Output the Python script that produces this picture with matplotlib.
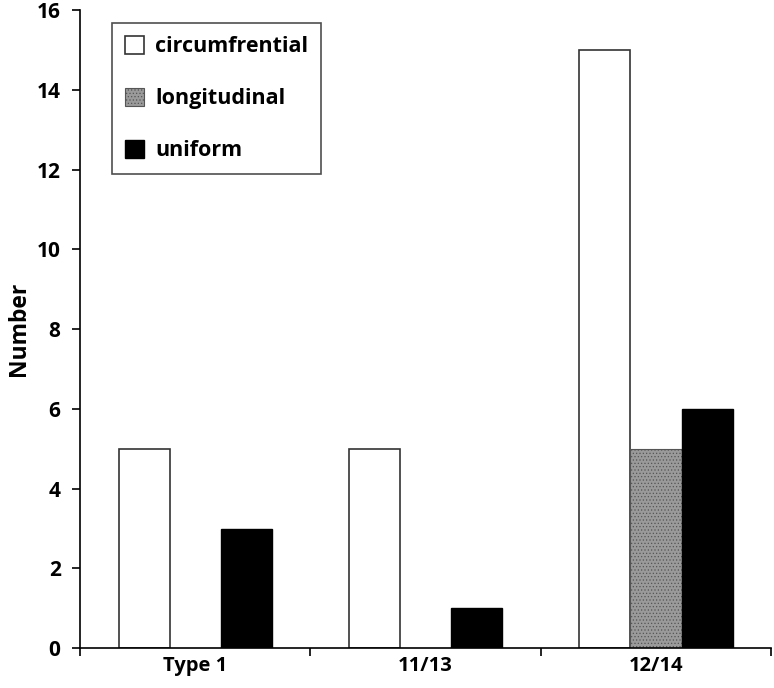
from matplotlib import pyplot as plt
import numpy as np

categories = ['Type 1', '11/13', '12/14']
circumfrential = [5, 5, 15]
longitudinal = [0, 0, 5]
uniform = [3, 1, 6]

if __name__ == '__main__':
    plt.rcParams['font.family'] = ['Open Sans', 'DejaVu Sans']
    plt.rcParams['hatch.color'] = '#555555'
    plt.rcParams['hatch.linewidth'] = 0.5

    fig = plt.figure(figsize=(7.74, 6.88), dpi=100)
    ax = fig.add_axes([0.1034, 0.058, 0.893, 0.927])

    x = np.arange(len(categories))
    w = 0.222
    ax.bar(x - w, circumfrential, w, color='white', edgecolor='#333333',
           linewidth=1.2, label='circumfrential')
    ax.bar(x, longitudinal, w, color='#9a9a9a', edgecolor='#555555',
           linewidth=0.8, hatch='.....', label='longitudinal')
    ax.bar(x + w, uniform, w, color='black', edgecolor='black',
           linewidth=1, label='uniform')

    ax.set_xlim(-0.5, 2.5)
    ax.set_ylim(0, 16)
    ax.set_yticks(range(0, 17, 2))
    ax.set_xticks(x)
    ax.set_xticklabels(categories, fontsize=14.5, fontweight='bold')
    ax.set_xticks([-0.5, 0.5, 1.5, 2.5], minor=True)
    ax.tick_params(axis='x', which='major', length=0, pad=6)
    ax.tick_params(axis='x', which='minor', length=6, width=1.2, direction='out')
    ax.tick_params(axis='y', length=6, width=1.2, direction='out', labelsize=15, pad=8)
    for lab in ax.get_yticklabels():
        lab.set_fontweight('bold')
    ax.set_ylabel('Number', fontsize=16.5, fontweight='bold', labelpad=4)

    for s in ['top', 'right']:
        ax.spines[s].set_visible(False)
    for s in ['left', 'bottom']:
        ax.spines[s].set_linewidth(1.2)

    leg = ax.legend(loc='upper left', bbox_to_anchor=(0.046, 0.98), fontsize=15.5,
                    frameon=True, fancybox=False, edgecolor='#222222',
                    borderaxespad=0,
                    handlelength=0.9, handleheight=0.9, handletextpad=0.5,
                    labelspacing=1.42, borderpad=0.6)
    leg.get_frame().set_linewidth(1.2)
    for t in leg.get_texts():
        t.set_fontweight('bold')

    fig.savefig('out.png', dpi=100)
